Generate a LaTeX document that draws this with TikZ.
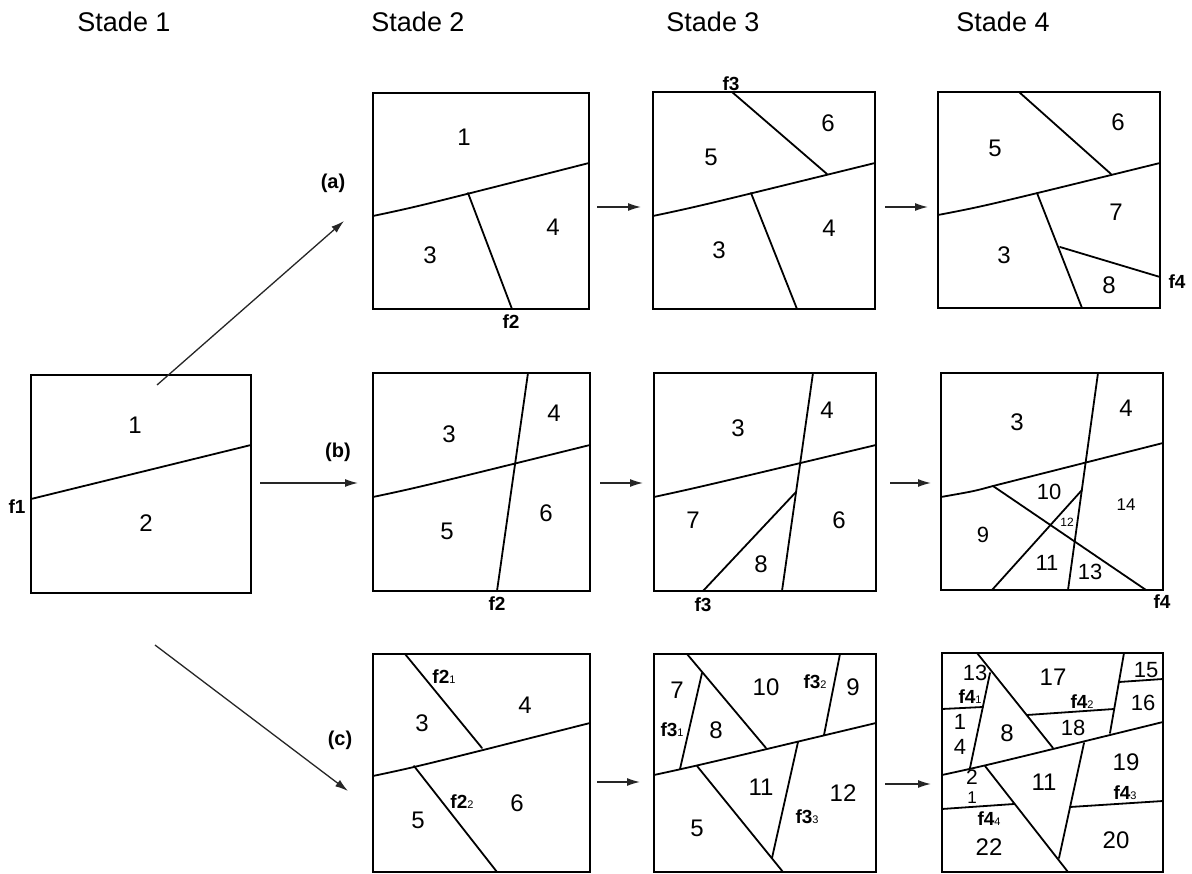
\documentclass[tikz,border=0pt]{standalone}
\usepackage{fontspec}
\setmainfont{Liberation Sans}
\usetikzlibrary{arrows.meta}
\newcommand\fsub[2]{\textbf{#1}{\fontsize{11}{11}\selectfont\mdseries #2}}
\tikzset{
  frame/.style={draw, line width=2pt},
  cut/.style={line width=1.8pt, line cap=round},
  num/.style={inner sep=0pt, font=\fontsize{24}{24}\selectfont},
  smallnum/.style={inner sep=0pt, font=\fontsize{17}{17}\selectfont},
  tinynum/.style={inner sep=0pt, font=\fontsize{12}{12}\selectfont},
  flab/.style={inner sep=0pt, font=\bfseries\fontsize{19}{19}\selectfont},
  rowlab/.style={inner sep=0pt, font=\bfseries\fontsize{20}{20}\selectfont},
  head/.style={inner sep=0pt, font=\fontsize{27}{27}\selectfont},
  arr/.style={line width=1.3pt, -{Latex[length=13pt,width=8pt]}, draw=black!85},
}
\begin{document}
\begin{tikzpicture}[x=1pt,y=-1pt]
\useasboundingbox (0,0) rectangle (1192,874);
\fill[white] (0,0) rectangle (1192,874);

% headers
\node[head] (h1) at (124,22) {Stade 1};
\node[head] (h2) at (418,22) {Stade 2};
\node[head] (h3) at (713,22) {Stade 3};
\node[head] (h4) at (1003,22) {Stade 4};

% ---------- Stage 1 ----------
\draw[frame] (31,375) rectangle (251,593);
\draw[cut] (31,499) -- (251,445);
\node[num] (s1n1) at (135,425) {1};
\node[num] (s1n2) at (146,523) {2};
\node[flab] (s1f1) at (17,507) {f1};

% row labels
\node[rowlab] (la) at (333,183) {(a)};
\node[rowlab] (lb) at (338,452) {(b)};
\node[rowlab] (lc) at (340,740) {(c)};

% arrows from stage 1
\coordinate (a0s) at (157,385); \coordinate (a0e) at (344,221);
\coordinate (b0s) at (260,483); \coordinate (b0e) at (358,483);
\coordinate (c0s) at (155,645); \coordinate (c0e) at (348,791);
\draw[arr] (a0s) -- (a0e);
\draw[arr] (b0s) -- (b0e);
\draw[arr] (c0s) -- (c0e);

% arrows between stages
\coordinate (a1s) at (597,207); \coordinate (a1e) at (641,207);
\coordinate (a2s) at (885,207); \coordinate (a2e) at (928,207);
\coordinate (b1s) at (600,483); \coordinate (b1e) at (643,483);
\coordinate (b2s) at (890,483); \coordinate (b2e) at (931,483);
\coordinate (c1s) at (597,782); \coordinate (c1e) at (640,782);
\coordinate (c2s) at (885,784); \coordinate (c2e) at (931,784);
\draw[arr] (a1s) -- (a1e);
\draw[arr] (a2s) -- (a2e);
\draw[arr] (b1s) -- (b1e);
\draw[arr] (b2s) -- (b2e);
\draw[arr] (c1s) -- (c1e);
\draw[arr] (c2s) -- (c2e);

% ---------- Row (a) ----------
% stage 2
\draw[frame] (373,93) rectangle (589,309);
\draw[cut] (373,216) .. controls (420,206) .. (589,163);
\draw[cut] (468,193) -- (512,309);
\node[num] (a2n1) at (464,137) {1};
\node[num] (a2n3) at (430,255) {3};
\node[num] (a2n4) at (553,227) {4};
\node[flab] (a2f2) at (511,322) {f2};
% stage 3
\draw[frame] (653,92) rectangle (875,309);
\draw[cut] (653,216) .. controls (700,206) .. (875,163);
\draw[cut] (732,92) -- (827,174);
\draw[cut] (751,193) -- (797,309);
\node[num] (a3n5) at (711,157) {5};
\node[num] (a3n6) at (828,123) {6};
\node[num] (a3n3) at (719,250) {3};
\node[num] (a3n4) at (829,228) {4};
\node[flab] (a3f3) at (731,84) {f3};
% stage 4
\draw[frame] (938,92) rectangle (1160,308);
\draw[cut] (938,215) .. controls (985,206) .. (1160,163);
\draw[cut] (1019,92) -- (1111,174);
\draw[cut] (1037,193) -- (1082,308);
\draw[cut] (1060,247) -- (1160,277);
\node[num] (a4n5) at (995,148) {5};
\node[num] (a4n6) at (1118,122) {6};
\node[num] (a4n7) at (1116,212) {7};
\node[num] (a4n3) at (1004,255) {3};
\node[num] (a4n8) at (1109,285) {8};
\node[flab] (a4f4) at (1177,282) {f4};

% ---------- Row (b) ----------
% stage 2
\draw[frame] (373,373) rectangle (590,591);
\draw[cut] (373,497) .. controls (420,487) .. (590,445);
\draw[cut] (528,373) -- (497,591);
\node[num] (b2n3) at (449,434) {3};
\node[num] (b2n4) at (554,413) {4};
\node[num] (b2n5) at (447,531) {5};
\node[num] (b2n6) at (546,513) {6};
\node[flab] (b2f2) at (497,604) {f2};
% stage 3
\draw[frame] (654,373) rectangle (876,591);
\draw[cut] (654,497) .. controls (700,487) .. (876,445);
\draw[cut] (813,373) -- (782,591);
\draw[cut] (703,591) -- (796,492);
\node[num] (b3n3) at (738,428) {3};
\node[num] (b3n4) at (827,410) {4};
\node[num] (b3n7) at (693,520) {7};
\node[num] (b3n6) at (839,520) {6};
\node[num] (b3n8) at (761,564) {8};
\node[flab] (b3f3) at (703,605) {f3};
% stage 4
\draw[frame] (941,373) rectangle (1163,590);
\draw[cut] (941,497) .. controls (975,491) .. (993,486) -- (1163,443);
\draw[cut] (1098,373) -- (1068,590);
\draw[cut] (993,486) -- (1146,590);
\draw[cut] (992,590) -- (1082,490);
\node[num] (b4n3) at (1017,422) {3};
\node[num] (b4n4) at (1126,408) {4};
\node[num, font=\fontsize{22}{22}\selectfont] (b4n10) at (1049,492) {10};
\node[smallnum] (b4n14) at (1126,505) {14};
\node[tinynum] (b4n12) at (1067,522) {12};
\node[num, font=\fontsize{22}{22}\selectfont] (b4n9) at (983,535) {9};
\node[num, font=\fontsize{22}{22}\selectfont] (b4n11) at (1047,563) {11};
\node[num, font=\fontsize{22}{22}\selectfont] (b4n13) at (1090,572) {13};
\node[flab] (b4f4) at (1162,602) {f4};

% ---------- Row (c) ----------
% stage 2
\draw[frame] (373,654) rectangle (590,872);
\draw[cut] (373,776) .. controls (420,766) .. (590,723);
\draw[cut] (405,654) -- (482,748);
\draw[cut] (414,766) -- (497,872);
\node[flab] (c2f21) at (444,677) {\fsub{f2}{1}};
\node[num] (c2n4) at (525,705) {4};
\node[num] (c2n3) at (422,723) {3};
\node[flab] (c2f22) at (462,802) {\fsub{f2}{2}};
\node[num] (c2n6) at (517,803) {6};
\node[num] (c2n5) at (418,820) {5};
% stage 3
\draw[frame] (654,654) rectangle (876,872);
\draw[cut] (654,775) .. controls (700,765) .. (876,723);
\draw[cut] (687,654) -- (766,748);
\draw[cut] (702,673) -- (680,769);
\draw[cut] (840,654) -- (824,735);
\draw[cut] (697,766) -- (783,872);
\draw[cut] (798,742) -- (772,858);
\node[num] (c3n7) at (677,690) {7};
\node[num] (c3n10) at (766,687) {10};
\node[flab] (c3f32) at (815,682) {\fsub{f3}{2}};
\node[num] (c3n9) at (853,687) {9};
\node[flab] (c3f31) at (672,730) {\fsub{f3}{1}};
\node[num] (c3n8) at (716,730) {8};
\node[num] (c3n11) at (761,787) {11};
\node[num] (c3n12) at (843,793) {12};
\node[flab] (c3f33) at (807,817) {\fsub{f3}{3}};
\node[num] (c3n5) at (697,828) {5};
% stage 4
\draw[frame] (942,653) rectangle (1163,872);
\draw[cut] (942,775) .. controls (988,765) .. (1163,722);
\draw[cut] (977,653) -- (1053,748);
\draw[cut] (990,673) -- (970,768);
\draw[cut] (1124,653) -- (1110,733);
\draw[cut] (942,709) -- (983,707);
\draw[cut] (1027,715) -- (1114,709);
\draw[cut] (1119,682) -- (1163,679);
\draw[cut] (985,766) -- (1068,872);
\draw[cut] (1084,743) -- (1059,858);
\draw[cut] (1070,807) -- (1163,801);
\draw[cut] (942,809) -- (1014,804);
\node[num, font=\fontsize{22}{22}\selectfont] (c4n13) at (975,673) {13};
\node[num] (c4n17) at (1053,677) {17};
\node[num, font=\fontsize{22}{22}\selectfont] (c4n15) at (1146,670) {15};
\node[flab] (c4f41) at (970,697) {\fsub{f4}{1}};
\node[flab] (c4f42) at (1082,702) {\fsub{f4}{2}};
\node[num, font=\fontsize{22}{22}\selectfont] (c4n16) at (1143,703) {16};
\node[num, font=\fontsize{22}{22}\selectfont] (c4n1a) at (960,722) {1};
\node[num, font=\fontsize{22}{22}\selectfont] (c4n4) at (960,747) {4};
\node[num] (c4n8) at (1007,733) {8};
\node[num, font=\fontsize{22}{22}\selectfont] (c4n18) at (1073,728) {18};
\node[num] (c4n19) at (1126,762) {19};
\node[num, font=\fontsize{21}{21}\selectfont] (c4n2) at (972,777) {2};
\node[num] (c4n11) at (1044,782) {11};
\node[flab] (c4f43) at (1125,793) {\fsub{f4}{3}};
\node[smallnum] (c4n1b) at (972,798) {1};
\node[flab] (c4f44) at (989,819) {\fsub{f4}{4}};
\node[num] (c4n22) at (989,847) {22};
\node[num] (c4n20) at (1116,840) {20};
\end{tikzpicture}
\end{document}
